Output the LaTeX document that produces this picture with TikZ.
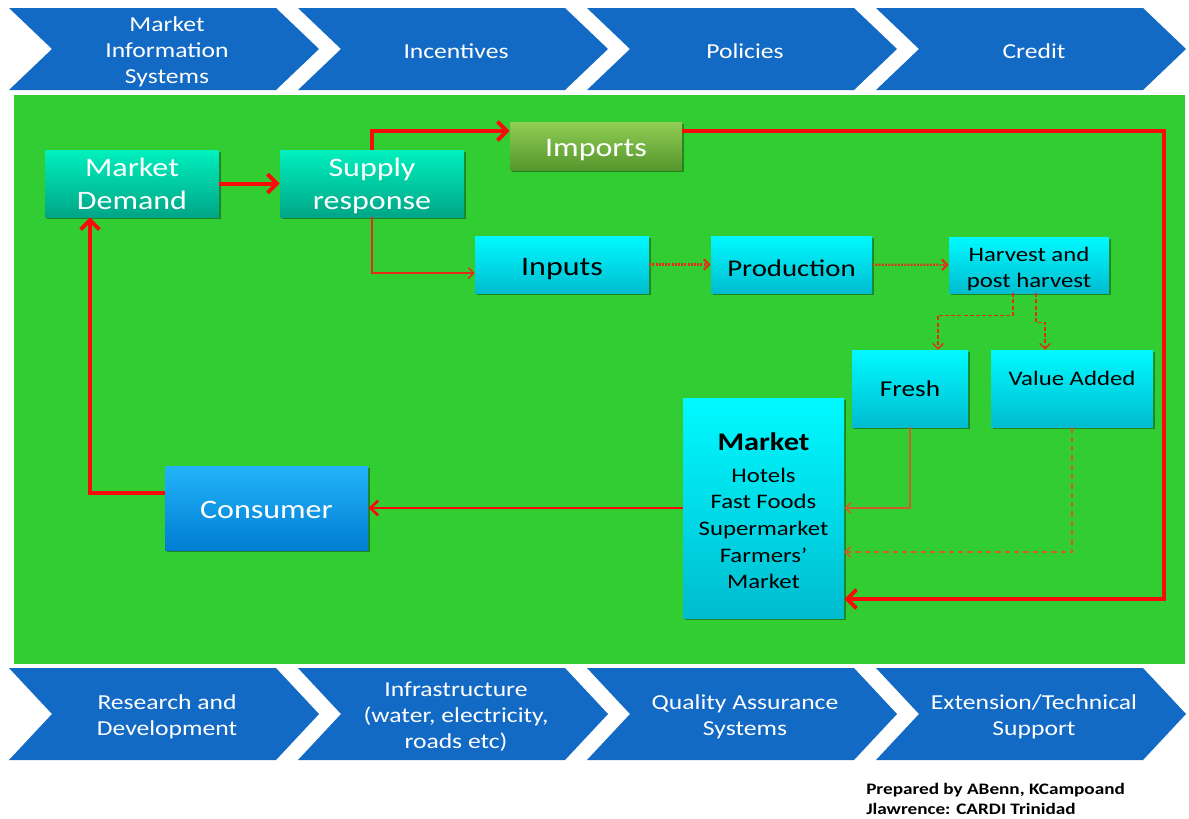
\documentclass[tikz,border=0pt]{standalone}
\usepackage{fontspec}
\setmainfont{Carlito}[FakeStretch=1.2]
\usetikzlibrary{arrows.meta,shadows}
\definecolor{chev}{RGB}{18,106,196}
\definecolor{bggreen}{RGB}{50,205,50}
\definecolor{tealtop}{RGB}{0,240,190}
\definecolor{tealbot}{RGB}{0,165,135}
\definecolor{cyantop}{RGB}{0,250,255}
\definecolor{cyanbot}{RGB}{0,188,208}
\definecolor{imptop}{RGB}{145,205,85}
\definecolor{impbot}{RGB}{85,150,45}
\definecolor{constop}{RGB}{35,180,250}
\definecolor{consbot}{RGB}{0,125,210}
\definecolor{lred}{RGB}{250,10,10}
\definecolor{dred}{RGB}{228,45,25}
\definecolor{brn}{RGB}{205,95,45}
\newcommand\up[1]{\rule{0pt}{#1}}
\begin{document}
\begin{tikzpicture}[x=0.75pt,y=-0.75pt,
  chevtext/.style={text=white,align=center,inner sep=0pt,font=\fontsize{16}{19.5}\selectfont},
  basebox/.style={rectangle,inner sep=0pt,align=center,
    drop shadow={shadow xshift=1.5pt,shadow yshift=-1.5pt,opacity=0.35,fill=black}},
  tealbox/.style={basebox,top color=tealtop,bottom color=tealbot,text=white,font=\fontsize{20}{24.75}\selectfont},
  impbox/.style={basebox,top color=imptop,bottom color=impbot,text=white,font=\fontsize{20}{24}\selectfont},
  cyanbox/.style={basebox,top color=cyantop,bottom color=cyanbot,text=black},
  consbox/.style={basebox,top color=constop,bottom color=consbot,text=white,font=\fontsize{20}{24}\selectfont},
  bigarrow/.style={draw=lred,line width=3pt,-{Straight Barb[length=7pt,width=14pt]}},
  midarrow/.style={draw=lred,line width=2pt,-{Straight Barb[length=6pt,width=11pt]}},
  thinarrow/.style={draw=dred,line width=1.1pt,-{Straight Barb[length=4pt,width=8pt]}},
  dotarrow/.style={draw=dred,line width=1.6pt,dash pattern=on 1.4pt off 1pt,-{Straight Barb[length=4pt,width=8pt]}},
  dasharrow/.style={draw=dred,line width=1pt,dash pattern=on 3pt off 1.6pt,-{Straight Barb[length=4pt,width=8pt]}},
  brnarrow/.style={draw=brn,line width=1.3pt,-{Straight Barb[length=4pt,width=8pt]}},
  brndash/.style={draw=brn,line width=1.3pt,dash pattern=on 4pt off 3pt,-{Straight Barb[length=4pt,width=8pt]}}
]
\useasboundingbox (0,0) rectangle (1189,818);
\fill[white] (0,0) rectangle (1189,818);
% top chevrons
\foreach \L/\n/\txt in {9/1/{Market\\Information\\Systems},298/2/{Incentives},587/3/{Policies},876/4/{Credit}}{
  \fill[chev] (\L,8) -- ++(267,0) -- ++(43,41) -- ++(-43,41) -- ++(-267,0) -- ++(43,-41) -- cycle;
  \node[chevtext] (top\n) at (\L+158,51.5) {\txt};
}
% green panel
\fill[bggreen] (14,95) rectangle (1185,664);
% bottom chevrons
\foreach \L/\n/\txt in {9/1/{Research and\\Development},298/2/{Infrastructure\\(water, electricity,\\roads etc)},587/3/{Quality Assurance\\Systems},876/4/{Extension/Technical\\Support}}{
  \fill[chev] (\L,668) -- ++(267,0) -- ++(43,46) -- ++(-43,46) -- ++(-267,0) -- ++(43,-46) -- cycle;
  \node[chevtext] (bot\n) at (\L+158,717) {\txt};
}
% nodes
\node[tealbox,minimum width=130.5pt,minimum height=50.25pt] (md) at (132,183.5) {Market\\Demand};
\node[tealbox,minimum width=138pt,minimum height=50.25pt] (sr) at (372,183.5) {\up{17.5pt}Supply\\response};
\node[impbox,minimum width=129pt,minimum height=36pt] (imp) at (596,146) {\up{19pt}Imports};
\node[cyanbox,minimum width=130.5pt,minimum height=42.75pt,font=\fontsize{20}{24}\selectfont] (inp) at (562,264.5) {\up{19pt}Inputs};
\node[cyanbox,minimum width=120.75pt,minimum height=42.75pt,font=\fontsize{18}{22}\selectfont] (prod) at (791.5,264.5) {\up{18pt}Production};
\node[cyanbox,minimum width=120pt,minimum height=42pt,font=\fontsize{15.5}{19.5}\selectfont] (harv) at (1029,265) {\up{17pt}Harvest and\\post harvest};
\node[cyanbox,minimum width=87pt,minimum height=57.75pt,font=\fontsize{17}{20}\selectfont] (fresh) at (910,388.5) {Fresh};
\node[cyanbox,minimum width=121.5pt,minimum height=57.75pt] (va) at (1072,388.5) {};
\node[text=black,inner sep=0pt,font=\fontsize{15.5}{19}\selectfont] (vatxt) at (1072,378.5) {Value Added};
\node[cyanbox,minimum width=120.75pt,minimum height=165pt] (mkt) at (763.5,508) {};
\node[text=black,inner sep=0pt,align=center,font=\fontsize{15.5}{20}\selectfont] (mkttxt) at (763.5,511)
  {{\fontsize{19}{20}\selectfont\bfseries Market}\\[3.5pt]Hotels\\Fast Foods\\Supermarket\\Farmers'\\Market};
\node[consbox,minimum width=152.25pt,minimum height=63pt] (cons) at (266.5,508) {\up{16pt}Consumer};
\node[anchor=north west,inner sep=0pt,align=left,text=black,font=\fontsize{12}{15}\selectfont\bfseries] (prep) at (866,783)
  {Prepared by ABenn, KCampoand\\Jlawrence: CARDI Trinidad};
% connectors
\coordinate (rc) at (1164,131);
\draw[bigarrow] (md) -- (sr);
\draw[bigarrow] (sr.north) |- ([yshift=11.25pt]imp.west);
\draw[bigarrow] ([yshift=11.25pt]imp.east) -- (rc) |- ([yshift=-68.25pt]mkt.east);
\draw[thinarrow] (sr.south) |- ([yshift=-6.4pt]inp.west);
\draw[dotarrow] (inp) -- (prod);
\draw[dotarrow] (prod) -- (harv);
\draw[dasharrow] ([xshift=-12pt]harv.south) -- ++(0,22) -| ([xshift=21pt]fresh.north);
\draw[dasharrow] ([xshift=5.25pt]harv.south) -- ++(0,29) -| ([xshift=-20.25pt]va.north);
\draw[brnarrow] (fresh.south) |- (mkt.east);
\draw[brndash] (va.south) |- ([yshift=-33pt]mkt.east);
\draw[midarrow] (mkt) -- (cons);
\draw[bigarrow] ([yshift=11.25pt]cons.west) -| ([xshift=-31.5pt]md.south);
\end{tikzpicture}
\end{document}
